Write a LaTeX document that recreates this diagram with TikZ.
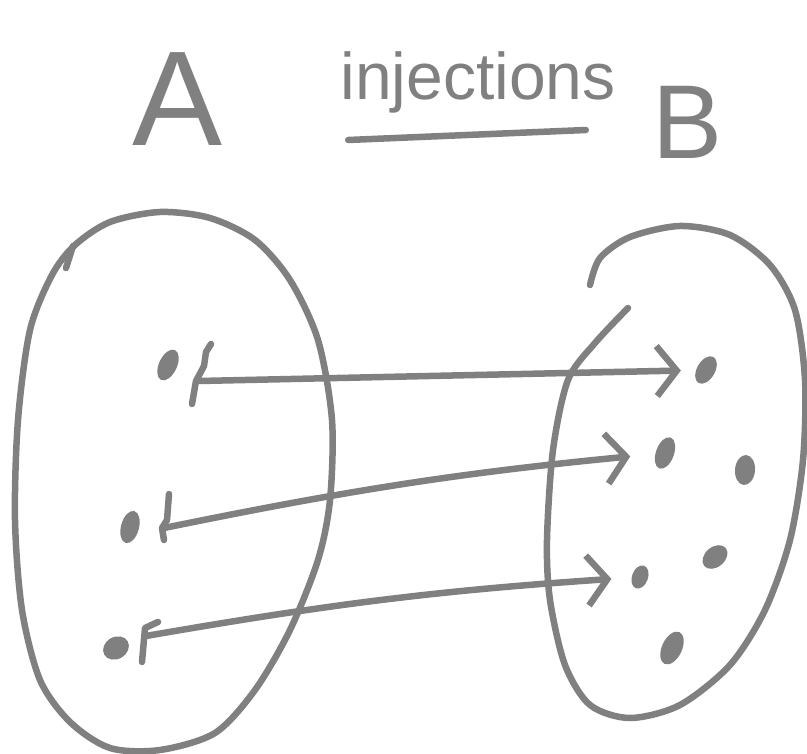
\documentclass[tikz,border=0pt]{standalone}
\usepackage{fontspec}
\setmainfont{Liberation Sans}
\usetikzlibrary{arrows.meta,calc,shapes.geometric}
\definecolor{pen}{RGB}{128,128,128}

\begin{document}
\begin{tikzpicture}[x=1pt,y=-1pt,line cap=round,line join=round,
  stroke/.style={draw=pen,line width=6.5pt},
  dot/.style={shape=ellipse,fill=pen,inner sep=0pt,minimum width=18pt,minimum height=33pt},
  map/.style={stroke,-{Straight Barb[length=20pt,width=50pt]}},
  word/.style={text=pen,inner sep=0pt}]
\useasboundingbox (0,0) rectangle (807,754);

\node[word,font=\fontsize{135}{135}\selectfont] (setA) at (178,99) {A};
\node[word,font=\fontsize{105}{105}\selectfont] (setB) at (688,122) {B};
\node[word,font=\fontsize{66}{66}\selectfont,anchor=base] (title) at (478,100) {injections};
\draw[stroke] ($(title.base west)+(8,40)$) -- ($(title.base east)+(-30,30)$);

\draw[stroke] plot[smooth cycle] coordinates {(75,245) (110,222) (160,212) (210,218) (255,240) (290,280) (318,340) (332,420) (330,500) (318,560) (290,630) (255,690) (215,733) (160,750) (110,748) (70,722) (40,680) (22,610) (15,520) (18,420) (30,330) (52,275)};
\draw[stroke] (66,268) -- (73,246);
\draw[stroke] plot[smooth] coordinates {(590,285) (600,258) (630,237) (680,226) (730,235) (770,265) (795,310) (805,380) (803,460) (790,540) (765,610) (730,665) (680,705) (630,718) (590,705) (565,665) (550,600) (547,540) (553,450) (568,380) (595,343) (628,308)};

\node[dot,rotate=-25] (a1) at (168,365) {};
\node[dot,rotate=-15] (a2) at (130,527) {};
\node[dot,minimum width=22pt,minimum height=27pt,rotate=-60] (a3) at (116,648) {};
\node[dot,minimum height=30pt,rotate=-30] (b1) at (706,370) {};
\node[dot,rotate=-20] (b2) at (665,453) {};
\node[dot,minimum width=16pt,minimum height=24pt,rotate=-20] (b3) at (640,577) {};
\node[dot,minimum width=20pt,minimum height=30pt,rotate=-5] (b4) at (745,470) {};
\node[dot,minimum width=20pt,minimum height=28pt,rotate=-50] (b5) at (715,557) {};
\node[dot,minimum width=20pt,minimum height=35pt,rotate=-25] (b6) at (672,648) {};

\coordinate (t1) at (199,381);
\coordinate (t2) at (164,528);
\coordinate (t3) at (146,636);
\draw[stroke] (211,344) -- (206,352) -- (204,366) -- (196,381) -- (192,404);
\draw[stroke] (169,494) -- (167,520) -- (162,528) -- (164,540);
\draw[stroke] (158,622) -- (145,628) -- (142,662);

\draw[map,shorten >=15pt] (t1) -- (b1);
\draw[map,shorten >=25pt] (t2) to[bend left=3] (b2);
\draw[map,shorten >=20pt] (t3) to[bend left=3] (b3);
\end{tikzpicture}
\end{document}
